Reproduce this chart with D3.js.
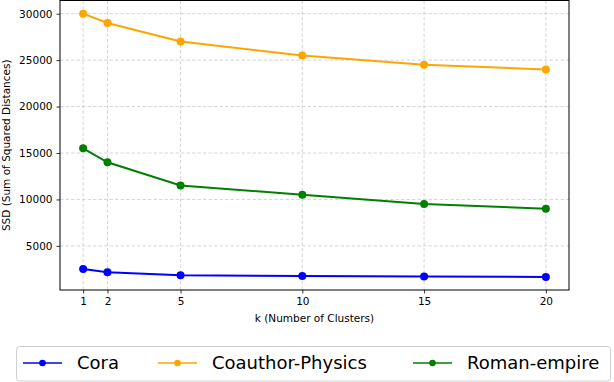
<!DOCTYPE html>
<html>
<head>
<meta charset="utf-8">
<script src="https://cdn.jsdelivr.net/npm/d3@7"></script>
<style>
  body { margin: 0; background: #fff; }
  text { font-family: "DejaVu Sans", sans-serif; fill: #000; }
</style>
</head>
<body>
<div id="chart"></div>
<script>
// k values on the x axis
const kValues = [1, 2, 5, 10, 15, 20];
const seriesNames = ["Cora", "Coauthor-Physics", "Roman-empire"];
const seriesColors = ["#0000ff", "#ffa500", "#008000"];

// SSD per k
const coraSSD = [2500, 2150, 1850, 1750, 1700, 1650];
const coauthorSSD = [30000, 29000, 27000, 25500, 24500, 24000];
const romanSSD = [15500, 14000, 11500, 10500, 9500, 9000];

const yTicks = [5000, 10000, 15000, 20000, 25000, 30000];

const width = 614, height = 382;
const margin = { left: 60, right: 45, top: 0.5, bottom: 92 };

const svg = d3.select("#chart").append("svg")
    .attr("width", width)
    .attr("height", height);

const x = d3.scaleLinear().domain([0.05, 20.95]).range([margin.left, width - margin.right]);
const y = d3.scaleLinear().domain([250, 31420]).range([height - margin.bottom, margin.top]);

const series = [coraSSD, coauthorSSD, romanSSD].map((vals, i) => ({
    name: seriesNames[i],
    color: seriesColors[i],
    values: vals.map((v, j) => ({ k: kValues[j], ssd: v }))
}));

// grid
const grid = svg.append("g");
grid.selectAll(".gx").data(kValues).enter().append("line")
    .attr("x1", d => x(d)).attr("x2", d => x(d))
    .attr("y1", y.range()[0]).attr("y2", y.range()[1])
    .attr("stroke", "#cccccc").attr("stroke-width", 0.8).attr("stroke-dasharray", "3.5,2");
grid.selectAll(".gy").data(yTicks).enter().append("line")
    .attr("x1", x.range()[0]).attr("x2", x.range()[1])
    .attr("y1", d => y(d)).attr("y2", d => y(d))
    .attr("stroke", "#cccccc").attr("stroke-width", 0.8).attr("stroke-dasharray", "3.5,2");

// lines + markers
const line = d3.line().x(d => x(d.k)).y(d => y(d.ssd));
series.forEach(s => {
    svg.append("path")
        .datum(s.values)
        .attr("d", line)
        .attr("fill", "none")
        .attr("stroke", s.color)
        .attr("stroke-width", 2);
    svg.append("g").selectAll("circle").data(s.values).enter().append("circle")
        .attr("cx", d => x(d.k))
        .attr("cy", d => y(d.ssd))
        .attr("r", 4)
        .attr("fill", s.color);
});

// axes
const xAxis = svg.append("g")
    .attr("transform", `translate(0,${y.range()[0]})`)
    .call(d3.axisBottom(x).tickValues(kValues).tickFormat(d3.format("d")).tickSize(3.5).tickPadding(4));
const yAxis = svg.append("g")
    .attr("transform", `translate(${x.range()[0]},0)`)
    .call(d3.axisLeft(y).tickValues(yTicks).tickFormat(d3.format("d")).tickSize(3.5).tickPadding(4));
[xAxis, yAxis].forEach(a => {
    a.select(".domain").remove();
    a.selectAll("text").attr("font-size", 10.5).attr("font-family", "DejaVu Sans");
    a.selectAll("line").attr("stroke", "#000").attr("stroke-width", 0.8);
});

// frame
svg.append("rect")
    .attr("x", x.range()[0]).attr("y", y.range()[1])
    .attr("width", x.range()[1] - x.range()[0])
    .attr("height", y.range()[0] - y.range()[1])
    .attr("fill", "none").attr("stroke", "#000").attr("stroke-width", 1);

// axis labels
svg.append("text")
    .attr("x", (x.range()[0] + x.range()[1]) / 2)
    .attr("y", 322)
    .attr("text-anchor", "middle")
    .attr("font-size", 10.5)
    .text("k (Number of Clusters)");
svg.append("text")
    .attr("transform", `translate(10,${(y.range()[0] + y.range()[1]) / 2}) rotate(-90)`)
    .attr("text-anchor", "middle")
    .attr("font-size", 10.5)
    .text("SSD (Sum of Squared Distances)");

// legend
const legend = svg.append("g");
legend.append("rect")
    .attr("x", 16.5).attr("y", 346.5)
    .attr("width", 594).attr("height", 34.5)
    .attr("rx", 3)
    .attr("fill", "#fff").attr("stroke", "#d0d0d0").attr("stroke-width", 1);
const legendX = [23, 158, 413];
series.forEach((s, i) => {
    const g = legend.append("g").attr("transform", `translate(${legendX[i]},363)`);
    g.append("line").attr("x1", 0).attr("x2", 39).attr("stroke", s.color).attr("stroke-width", 1.5);
    g.append("circle").attr("cx", 19.5).attr("cy", 0).attr("r", 3.3).attr("fill", s.color);
    g.append("text").attr("x", 54).attr("y", 0).attr("dy", "0.35em")
        .attr("font-size", 18).text(s.name);
});
</script>
</body>
</html>
